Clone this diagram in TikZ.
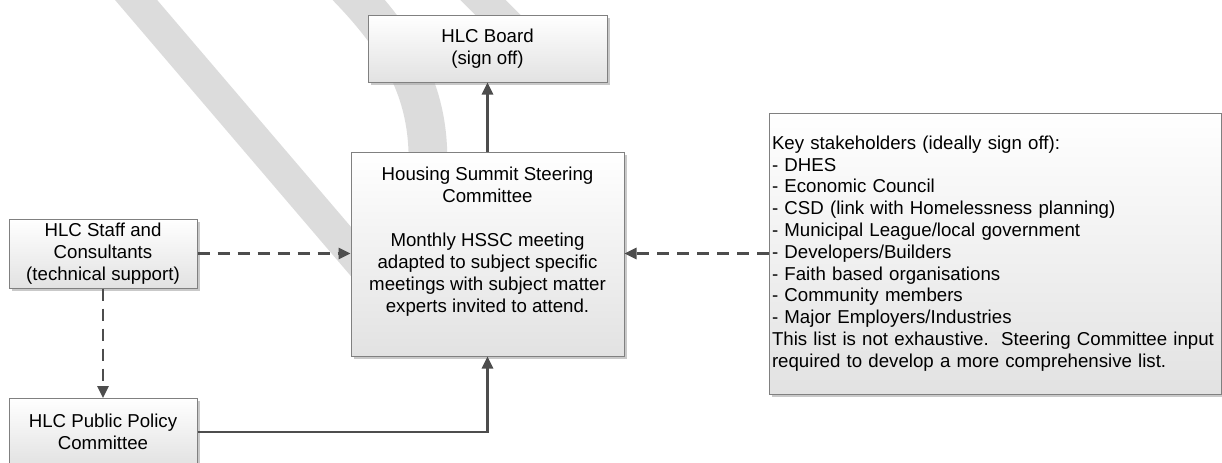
\documentclass[tikz,border=0pt]{standalone}
\usepackage{fontspec}
\setmainfont{Liberation Sans}
\usetikzlibrary{arrows.meta, shadows}

\definecolor{boxline}{HTML}{808080}
\definecolor{boxfill}{HTML}{E2E2E2}
\definecolor{linkgray}{HTML}{4D4D4D}
\definecolor{markgray}{HTML}{DCDCDC}

\begin{document}
\begin{tikzpicture}[x=0.75pt, y=-0.75pt, font=\fontsize{14}{16.5}\selectfont,
    box/.style={draw=boxline, line width=0.75pt, top color=white, bottom color=boxfill,
        drop shadow={shadow xshift=2pt, shadow yshift=-2pt, fill=black!35, opacity=0.6},
        align=center, inner sep=0pt},
    link/.style={draw=linkgray, line width=1.6pt, -{Triangle[length=9pt, width=8.5pt]}},
    dlink/.style={link, dash pattern=on 9pt off 6pt}]
    % 背景
    \useasboundingbox (0,0) rectangle (1222,462);
    \fill[white] (0,0) rectangle (1222,462);

    % 透かしの帯
    \begin{scope}[markgray, line cap=butt]
        \draw[line width=24pt] (119,-20) -- (418,330);
        \draw[line width=29pt] (340,-20) .. controls (400,40) and (428,90) .. (428,160) -- (428,300);
        \draw[line width=24pt] (463,-20) -- (543,60);
    \end{scope}

    % ボックス
    \node[box, minimum width=179.25pt, minimum height=50.25pt] (board) at (487.5,48.5)
        {HLC Board\\(sign off)};
    \node[box, minimum width=204.75pt, minimum height=153pt] (hssc) at (487.5,254)
        {Housing Summit Steering\\Committee\\[16.5pt]Monthly HSSC meeting\\adapted to subject specific\\meetings with subject matter\\experts invited to attend.\\ \strut};
    \node[box, minimum width=141pt, minimum height=51.75pt] (staff) at (103,253.5)
        {HLC Staff and\\Consultants\\(technical support)};
    \node[box, minimum width=141pt, minimum height=50.25pt] (policy) at (103,432)
        {HLC Public Policy\\Committee};
    \node[box, align=left, text width=334.5pt, inner xsep=2.25pt, minimum height=210.75pt,
        font=\fontsize{14}{16.35}\selectfont] (stake) at (995,253.5)
        {Key stakeholders (ideally sign off):\\
         - DHES\\
         - Economic Council\\
         - CSD (link with Homelessness planning)\\
         - Municipal League/local government\\
         - Developers/Builders\\
         - Faith based organisations\\
         - Community members\\
         - Major Employers/Industries\\
         This list is not exhaustive.\ \ Steering Committee input\\
         required to develop a more comprehensive list.};

    % 矢印
    \draw[link] (hssc) -- (board);
    \draw[dlink] (staff.east) -- (staff.east -| hssc.west);
    \draw[dlink] (stake.west) -- (stake.west -| hssc.east);
    \draw[dlink] (staff) -- (policy);
    \draw[link] (policy.east) -| (hssc.south);
\end{tikzpicture}
\end{document}
